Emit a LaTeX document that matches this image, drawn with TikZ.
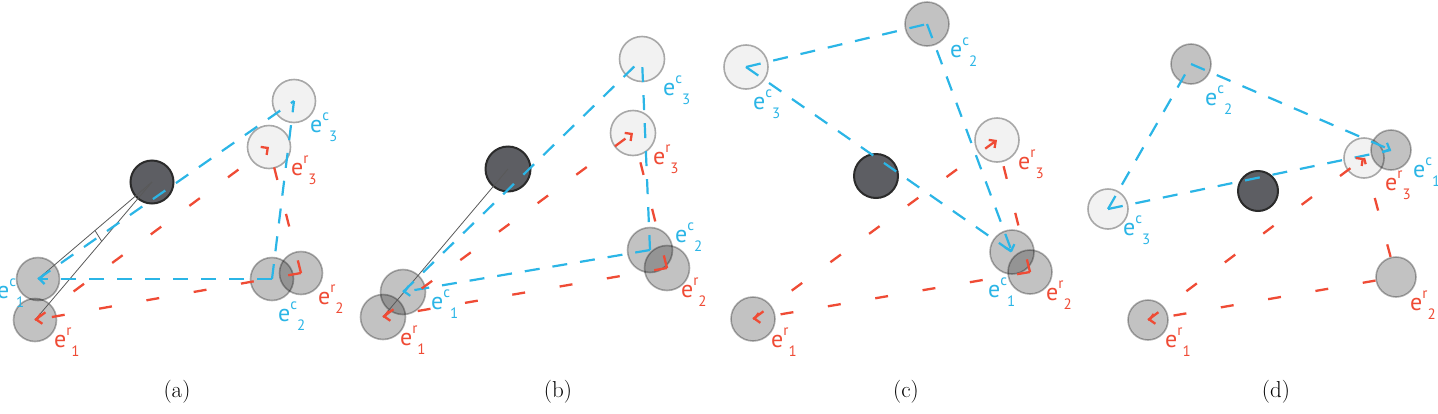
\documentclass[tikz,border=0pt]{standalone}
\usepackage{fontspec}
\setsansfont{PT Sans}
\usetikzlibrary{arrows.meta,calc}
\definecolor{cyanl}{HTML}{2BB5E6}
\definecolor{redl}{HTML}{EF4B35}
\definecolor{darkf}{HTML}{5D5E63}
\definecolor{darkd}{HTML}{2B2B2B}
\definecolor{lightf}{HTML}{F2F2F2}
\definecolor{lightd}{HTML}{A8A8A8}
\newcommand\elab[2]{e\raisebox{0.5em}{\fontsize{15}{15}\selectfont #1}\raisebox{-0.4em}{\fontsize{15}{15}\selectfont #2}}
\begin{document}
\begin{tikzpicture}[x=1pt,y=-1pt,
 lightc/.style={circle,inner sep=0,fill=lightf,draw=lightd,line width=1.6pt},
 grayc/.style={circle,inner sep=0,fill=black,fill opacity=0.24,draw=black,draw opacity=0.3,line width=1.6pt},
 darkc/.style={circle,inner sep=0,fill=darkf,draw=darkd,line width=2pt},
 bl/.style={draw=cyanl,line width=2.2pt,dash pattern=on 15pt off 13pt},
 rd/.style={draw=redl,line width=2.3pt,dash pattern=on 13pt off 35pt},
 headed/.style={-{Straight Barb[length=5pt,width=10pt]}},
 gl/.style={draw=black!65,line width=0.8pt},
 labc/.style={text=cyanl,font=\sffamily\fontsize{24}{24}\selectfont,inner sep=0,anchor=base west},
 labr/.style={labc,text=redl},
 captext/.style={font=\fontsize{23}{26}\selectfont,inner sep=0}]
\useasboundingbox (0,0) rectangle (1438,413);
% ---------- (a)
\begin{scope}[every node/.append style={minimum size=43pt}]
\node[grayc] (ac1) at (38,279) {};
\node[grayc] (ar1) at (35,320) {};
\node[grayc] (ac2) at (272,279) {};
\node[grayc] (ar2) at (301,273) {};
\node[lightc] (ac3) at (294,101) {};
\node[lightc] (ar3) at (269,147) {};
\node[darkc] (ad) at (152,182) {};
\end{scope}
\draw[gl] (ad.center) -- (ac1.center);
\draw[gl] (ad.center) -- (ar1.center);
\draw[gl] ($(ad.center)!0.5!(ac1.center)$) -- ($(ad.center)!0.43!(ar1.center)$);
\draw[bl] (ac1.center) -- (ac3.center);
\draw[bl] (ac2.center) -- (ac3.center);
\draw[bl,headed] (ac2.center) -- (ac1.center);
\draw[rd,headed] (ar1.center) -- (ar3.center);
\draw[rd] (ar2.center) -- (ar3.center);
\draw[rd,headed] (ar2.center) -- (ar1.center);
\node[labc] (alc3) at (310,132) {\elab{c}{3}};
\node[labr] (alr3) at (291,175) {\elab{r}{3}};
\node[labr] (alr2) at (318,304) {\elab{r}{2}};
\node[labc] (alc2) at (278,321) {\elab{c}{2}};
\node[labr] (alr1) at (54,347) {\elab{r}{1}};
\node[labc] (alc1) at (-3,298) {\elab{c}{1}};
% ---------- (b)
\begin{scope}[every node/.append style={minimum size=45pt}]
\node[grayc] (bc1) at (403,292) {};
\node[grayc] (br1) at (383,317) {};
\node[grayc] (bc2) at (650,250) {};
\node[grayc] (br2) at (667,268) {};
\node[lightc] (bc3) at (642,59) {};
\node[lightc] (br3) at (633,133) {};
\node[darkc] (bd) at (508,169) {};
\end{scope}
\draw[gl] (bd.center) -- (br1.center);
\draw[bl] (bc1.center) -- (bc3.center);
\draw[bl] (bc2.center) -- (bc3.center);
\draw[bl,headed] (bc2.center) -- (bc1.center);
\draw[rd,headed] (br1.center) -- (br3.center);
\draw[rd] (br2.center) -- (br3.center);
\draw[rd,headed] (br2.center) -- (br1.center);
\node[labc] (blc3) at (663,95) {\elab{c}{3}};
\node[labr] (blr3) at (653,164) {\elab{r}{3}};
\node[labc] (blc2) at (675,242) {\elab{c}{2}};
\node[labr] (blr2) at (681,297) {\elab{r}{2}};
\node[labc] (blc1) at (431,309) {\elab{c}{1}};
\node[labr] (blr1) at (400,345) {\elab{r}{1}};
% ---------- (c)
\begin{scope}[every node/.append style={minimum size=44pt}]
\node[grayc] (cc1) at (1012,252) {};
\node[grayc] (cr2) at (1030,272) {};
\node[grayc] (cr1) at (753,319) {};
\node[grayc] (cc2) at (927,24) {};
\node[lightc] (cc3) at (746,67) {};
\node[lightc] (cr3) at (997,140) {};
\node[darkc] (cd) at (876,176) {};
\end{scope}
\draw[bl] (cc3.center) -- (cc2.center);
\draw[bl] (cc3.center) -- (cc1.center);
\draw[bl,headed] (cc2.center) -- (cc1.center);
\draw[rd,headed] (cr1.center) -- (cr3.center);
\draw[rd] (cr2.center) -- (cr3.center);
\draw[rd,headed] (cr2.center) -- (cr1.center);
\node[labc] (clc2) at (950,57) {\elab{c}{2}};
\node[labc] (clc3) at (753,109) {\elab{c}{3}};
\node[labr] (clr3) at (1018,169) {\elab{r}{3}};
\node[labc] (clc1) at (988,297) {\elab{c}{1}};
\node[labr] (clr2) at (1046,300) {\elab{r}{2}};
\node[labr] (clr1) at (771,347) {\elab{r}{1}};
% ---------- (d)
\begin{scope}[every node/.append style={minimum size=40pt}]
\node[lightc] (dr3) at (1364,158) {};
\node[grayc] (dc1) at (1391,150) {};
\node[grayc] (dc2) at (1191,64) {};
\node[grayc] (dr2) at (1396,277) {};
\node[grayc] (dr1) at (1148,320) {};
\node[lightc] (dc3) at (1108,209) {};
\node[darkc] (dd) at (1258,191) {};
\end{scope}
\draw[bl] (dc3.center) -- (dc2.center);
\draw[bl] (dc3.center) -- (dc1.center);
\draw[bl,headed] (dc2.center) -- (dc1.center);
\draw[rd,headed] (dr1.center) -- (dr3.center);
\draw[rd] (dr2) -- (dr3.center);
\draw[rd,headed] (dr2) -- (dr1.center);
\node[labc] (dlc2) at (1205,105) {\elab{c}{2}};
\node[labc] (dlc1) at (1413,177) {\elab{c}{1}};
\node[labr] (dlr3) at (1385,190) {\elab{r}{3}};
\node[labc] (dlc3) at (1123,235) {\elab{c}{3}};
\node[labr] (dlr2) at (1410,310) {\elab{r}{2}};
\node[labr] (dlr1) at (1165,347) {\elab{r}{1}};
% ---------- captions
\node[captext] (capa) at (177,392) {(a)};
\node[captext] (capb) at (558,392) {(b)};
\node[captext] (capc) at (906,392) {(c)};
\node[captext] (capd) at (1276,392) {(d)};
\end{tikzpicture}
\end{document}
